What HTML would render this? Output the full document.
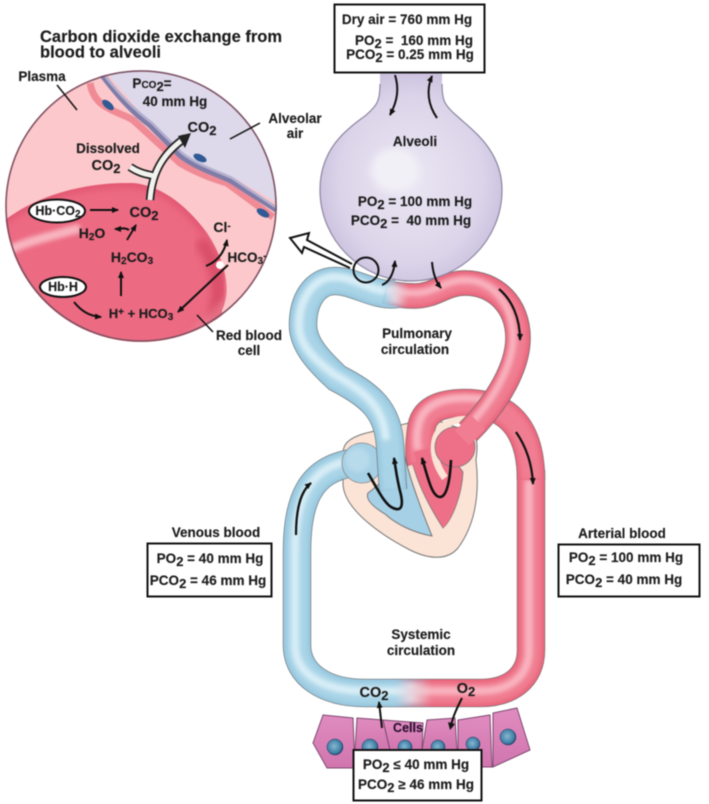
<!DOCTYPE html>
<html><head><meta charset="utf-8"><style>
html,body{margin:0;padding:0;background:#fff;width:709px;height:804px;overflow:hidden}
svg{display:block;filter:blur(.45px)}
text{font-family:"Liberation Sans",sans-serif;font-weight:bold;font-size:13.5px;fill:#1c1c1c;text-anchor:middle;stroke:#1c1c1c;stroke-width:.15px}
.s{font-size:13px}
.t{font-size:10px}
</style></head><body>
<svg width="709" height="804" viewBox="0 0 709 804" xmlns="http://www.w3.org/2000/svg">
<defs>
<filter id="b2" x="-20%" y="-20%" width="140%" height="140%"><feGaussianBlur stdDeviation="2.2"/></filter>
<filter id="b4" x="-30%" y="-30%" width="160%" height="160%"><feGaussianBlur stdDeviation="4"/></filter>
<linearGradient id="gBot" gradientUnits="userSpaceOnUse" x1="395" y1="0" x2="432" y2="0"><stop offset="0" stop-color="#a9d4e7"/><stop offset=".45" stop-color="#e8d6de"/><stop offset="1" stop-color="#f07d91"/></linearGradient>
<linearGradient id="gBotE" gradientUnits="userSpaceOnUse" x1="395" y1="0" x2="432" y2="0"><stop offset="0" stop-color="#96c6de"/><stop offset="1" stop-color="#e9647b"/></linearGradient>
<linearGradient id="gBotL" gradientUnits="userSpaceOnUse" x1="395" y1="0" x2="432" y2="0"><stop offset="0" stop-color="#d8eef7"/><stop offset="1" stop-color="#f9b4bf"/></linearGradient>
<linearGradient id="gTop" gradientUnits="userSpaceOnUse" x1="385" y1="0" x2="408" y2="0"><stop offset="0" stop-color="#a9d4e7"/><stop offset=".45" stop-color="#e8d6de"/><stop offset="1" stop-color="#f07d91"/></linearGradient>
<linearGradient id="gTopE" gradientUnits="userSpaceOnUse" x1="385" y1="0" x2="408" y2="0"><stop offset="0" stop-color="#96c6de"/><stop offset="1" stop-color="#e9647b"/></linearGradient>
<linearGradient id="gTopL" gradientUnits="userSpaceOnUse" x1="385" y1="0" x2="408" y2="0"><stop offset="0" stop-color="#d8eef7"/><stop offset="1" stop-color="#f9b4bf"/></linearGradient>
<radialGradient id="alv" cx=".5" cy=".52" r=".55"><stop offset="0" stop-color="#ebe7f3"/><stop offset=".7" stop-color="#dcd5ea"/><stop offset="1" stop-color="#c8bddc"/></radialGradient>
<radialGradient id="nuc" cx=".45" cy=".45" r=".55"><stop offset="0" stop-color="#86b8d0"/><stop offset=".8" stop-color="#3f7ea5"/><stop offset="1" stop-color="#22456b"/></radialGradient>
<clipPath id="cc"><circle cx="141" cy="206" r="136"/></clipPath>
<clipPath id="rbc"><path d="M0,224 C35,195 85,182 133,183 C165,186 190,210 207,233 C225,260 232,290 222,310 L222,350 L0,350 Z"/></clipPath>
<marker id="ah" markerWidth="8" markerHeight="8" refX="6" refY="3" orient="auto" markerUnits="userSpaceOnUse"><path d="M0,0 L7,3 L0,6 Z" fill="#111"/></marker>
<linearGradient id="cellg" x1="0" y1="0" x2="0" y2="1"><stop offset="0" stop-color="#e08cc0"/><stop offset="1" stop-color="#d175ae"/></linearGradient>
</defs>

<!-- Heart -->
<path d="M345,445 C352,434 372,432 392,427 L430,418 L470,432 C478,438 478,445 476,460 C480,495 475,525 458,548 C448,560 430,560 410,550 C385,537 342,510 343,482 C344,470 340,455 345,445 Z" fill="#fbe3d6" stroke="#777" stroke-width="1"/>

<!-- Systemic loop -->
<g fill="none">
  <path d="M352,463 C310,470 297,500 297,552 L297,645 C297,675 325,693 365,693 L480,693 C510,693 531,678 531,650 L531,470" stroke="#6a6a6a" stroke-width="28.3"/>
  <path d="M352,463 C310,470 297,500 297,552 L297,645 C297,675 325,693 365,693 L480,693 C510,693 531,678 531,650 L531,470" stroke="url(#gBotE)" stroke-width="27"/>
  <path d="M352,463 C310,470 297,500 297,552 L297,645 C297,675 325,693 365,693 L480,693 C510,693 531,678 531,650 L531,470" stroke="url(#gBot)" stroke-width="21" filter="url(#b2)"/>
  <path d="M345,462 C310,469 295,500 295,552 L295,645 C295,675 325,691 365,691 L480,691 C508,691 529,678 529,650 L529,470" stroke="url(#gBotL)" stroke-width="8" filter="url(#b2)"/>
</g>
<circle cx="362" cy="463" r="20" fill="#a6d0e5" stroke="#888" stroke-width=".8"/>
<circle cx="358" cy="460" r="12" fill="#b8dbec" filter="url(#b2)"/>

<!-- Right ventricle -->
<path d="M368,493 C375,488 378,484 381,483 L388,440 L398,423 C402,445 405,470 432,536 C415,533 397,525 385,514 C375,508 365,500 368,493 Z" fill="#a6d0e5" stroke="#777" stroke-width="1"/>

<!-- Aorta + left ventricle -->
<path d="M407,432 C410,470 425,500 443,528 C452,520 462,495 463,472 L440,440 Z" fill="#ee7088" stroke="#777" stroke-width=".8"/>
<g fill="none">
  <path d="M421,462 C418,452 420,440 421,430 C423,410 440,403 465,403 C500,403 531,420 531,480" stroke="#6a6a6a" stroke-width="28.3"/>
  <path d="M421,462 C418,452 420,440 421,430 C423,410 440,403 465,403 C500,403 531,420 531,480" stroke="#e9647b" stroke-width="27"/>
  <path d="M421,462 C418,452 420,440 421,430 C423,410 440,403 465,403 C500,403 531,420 531,480" stroke="#f07d91" stroke-width="21" filter="url(#b2)"/>
  <path d="M418,450 C416,440 417,432 418,428 C421,406 440,398 465,398 C480,398 490,400 500,404" stroke="#f9b4bf" stroke-width="8" filter="url(#b2)"/>
</g>
<path d="M414,452 C418,470 430,500 443,528 C452,520 461,495 462,472 L440,445 Z" fill="#ee7088"/>

<!-- Pale rim -->
<path d="M445,478 C428,455 430,425 458,420 C468,418 478,420 482,424" fill="none" stroke="#fbe3d6" stroke-width="7"/>

<!-- Pulmonary tubes: outlines first so the junction stays seamless -->
<g fill="none">
  <path d="M397,294 C375,297 355,281 335,281 C315,281 303,300 303,325 C303,345 320,362 337,378 C370,395 388,410 390,445 L393,490" stroke="#6a6a6a" stroke-width="28.3"/>
  <path d="M385,292 C395,295 405,296 415,296 C435,296 445,283 465,283 C495,283 518,305 518,338 C518,365 500,400 468,432" stroke="#6a6a6a" stroke-width="25.5"/>
  <path d="M397,294 C375,297 355,281 335,281 C315,281 303,300 303,325 C303,345 320,362 337,378 C370,395 388,410 390,445 L393,490" stroke="#96c6de" stroke-width="27"/>
  <path d="M397,294 C375,297 355,281 335,281 C315,281 303,300 303,325 C303,345 320,362 337,378 C370,395 388,410 390,445 L393,490" stroke="#a9d4e7" stroke-width="21" filter="url(#b2)"/>
  <path d="M395,292 C372,293 355,277 335,277 C313,277 299,300 299,325 C299,347 318,362 335,375 C366,392 384,408 386,440" stroke="#d8eef7" stroke-width="8" filter="url(#b2)"/>
  <path d="M385,292 C395,295 405,296 415,296 C435,296 445,283 465,283 C495,283 518,305 518,338 C518,365 500,400 468,432" stroke="url(#gTopE)" stroke-width="24"/>
  <path d="M385,292 C395,295 405,296 415,296 C435,296 445,283 465,283 C495,283 518,305 518,338 C518,365 500,400 468,432" stroke="url(#gTop)" stroke-width="18" filter="url(#b2)"/>
  <path d="M385,290 C395,292 405,293 415,293 C435,293 445,280 465,280 C492,280 513,303 513,338 C513,362 497,396 470,424" stroke="url(#gTopL)" stroke-width="7" filter="url(#b2)"/>
</g>
<circle cx="455" cy="447" r="20" fill="#ee7088" stroke="#777" stroke-width=".8"/>
<path d="M462,438 L478,422" stroke="#f07d91" stroke-width="20"/>

<!-- Heart arrows -->
<g fill="none" stroke="#111" stroke-width="2.6">
  <path d="M368,473 C378,490 385,505 393,508 C402,512 403,505 401,495 C397,480 396,470 394,458" marker-end="url(#ah)"/>
  <path d="M451,460 C450,480 447,497 440,497 C432,497 428,478 422,458" marker-end="url(#ah)"/>
  <path d="M296,535 C296,510 300,492 311,483" marker-end="url(#ah)" stroke-width="2.2"/>
  <path d="M516,432 C525,445 532,462 533,484" marker-end="url(#ah)" stroke-width="2.2"/>
  <path d="M499,289 C512,300 520,318 520,340" marker-end="url(#ah)" stroke-width="2.2"/>
</g>

<!-- Alveoli -->
<path d="M380,70 L380,84 C380,100 378,105 365,116 C345,130 320,150 320,190 C320,240 361,281 411,281 C461,281 502,240 502,190 C502,150 472,130 457,116 C444,105 442,100 442,84 L442,70 Z" fill="url(#alv)"/>
<path d="M380,84 C380,100 378,105 365,116 C345,130 320,150 320,190 C320,240 361,281 411,281 C461,281 502,240 502,190 C502,150 472,130 457,116 C444,105 442,100 442,84" fill="none" stroke="#8c86a0" stroke-width="1.2"/>
<ellipse cx="395" cy="170" rx="24" ry="22" fill="#f2f0f7" filter="url(#b4)"/>
<g fill="none" stroke="#111" stroke-width="2">
  <path d="M395,75 C399,88 398,100 390,115" marker-end="url(#ah)"/>
  <path d="M437,118 C428,105 426,90 432,76" marker-end="url(#ah)"/>
  <path d="M382,285 C390,282 394,272 395,261" marker-end="url(#ah)"/>
  <path d="M432,262 C433,274 436,282 441,288" marker-end="url(#ah)"/>
</g>
<circle cx="366" cy="270" r="12.5" fill="none" stroke="#111" stroke-width="2"/>
<path d="M352,264 L307,240 L309,233 L290,238 L302,253 L304,247 L350,268" fill="#fff" stroke="#111" stroke-width="2" stroke-linejoin="miter"/>

<!-- Zoom circle -->
<g clip-path="url(#cc)">
  <rect x="0" y="60" width="290" height="290" fill="#fcc8cb"/>
  <path d="M108,60 L110,77 L153,127 L180,153 C200,168 233,177 233,177 L277,203 L290,205 L290,60 Z" fill="#ddd8ea"/>
  <path d="M0,224 C35,195 85,182 133,183 C165,186 190,210 207,233 C225,260 232,290 222,310 L222,350 L0,350 Z" fill="#ec6a82"/>
  <g clip-path="url(#rbc)">
    <path d="M5,252 C30,240 45,238 80,228" stroke="#f8b5bf" stroke-width="9" fill="none" filter="url(#b2)"/>
    <path d="M147,305 L147,345" stroke="#fcd0d6" stroke-width="7" filter="url(#b2)"/>
    <path d="M0,222 C35,195 85,182 133,183 C165,186 190,210 207,233" fill="none" stroke="#e0526f" stroke-width="8" filter="url(#b4)"/>
    <path d="M200,240 C222,270 222,295 212,325" stroke="#d94d68" stroke-width="14" fill="none" filter="url(#b4)"/>
    <path d="M230,300 L180,350" stroke="#f08a9c" stroke-width="10" filter="url(#b4)" opacity=".6"/>
  </g>
  <path d="M90,83 C92,95 98,103 108,108 C118,114 125,115 133,120 L180,163 C195,172 210,178 227,183 L273,217" fill="none" stroke="#f08b96" stroke-width="7"/>
  <path d="M100,72 C115,92 130,110 150,125 L180,155 C195,167 215,173 230,180 L277,210" fill="none" stroke="#7f7da8" stroke-width="6"/>
  <path d="M102,72 C117,92 132,108 152,123 L182,153 C197,165 217,171 232,178 L277,208" fill="none" stroke="#b3b0cf" stroke-width="2.5"/>
  <ellipse cx="108" cy="105" rx="7" ry="3.5" transform="rotate(40 108 105)" fill="#2f5a94"/>
  <ellipse cx="200" cy="158" rx="7" ry="3.5" transform="rotate(25 200 158)" fill="#2f5a94"/>
  <ellipse cx="263" cy="213" rx="7" ry="3.5" transform="rotate(30 263 213)" fill="#2f5a94"/>
  <circle cx="141" cy="206" r="135" fill="none" stroke="#7a5060" stroke-width="1.5"/>
</g>

<!-- CO2 white arrow -->
<path d="M130,167 C142,175 150,174 156,177 M150,200 C152,170 165,152 185,138" fill="none" stroke="#222" stroke-width="8.5"/>
<path d="M130,167 C142,175 150,174 156,177 M150,200 C152,170 165,152 185,138" fill="none" stroke="#f2f2ee" stroke-width="5"/>
<path d="M178,136 L191,133 L185,148 Z" fill="#222"/>

<!-- Internal arrows -->
<g fill="none" stroke="#111" stroke-width="2">
  <path d="M90,210 L118,210" marker-end="url(#ah)"/>
  <path d="M127,240 L136,225" stroke-width="1.8" marker-end="url(#ah)"/>
  <path d="M129,230 C124,227 121,229 115,229" marker-end="url(#ah)"/>
  <path d="M121,296 L121,272" marker-end="url(#ah)"/>
  <path d="M74,302 C82,312 90,316 101,317" marker-end="url(#ah)"/>
  <path d="M228,265 L178,312" marker-end="url(#ah)"/>
  <path d="M206,266 C216,262 224,254 227,240" marker-end="url(#ah)"/>
  <path d="M57,85 L77,110" stroke-width="1.5"/>
  <path d="M230,139 L260,123" stroke-width="1.5"/>
  <path d="M197,315 L213,332" stroke-width="1.5"/>
</g>
<circle cx="220" cy="265" r="4" fill="#fff"/>

<!-- Ovals -->
<ellipse cx="57" cy="211" rx="28" ry="11.5" fill="#fff" stroke="#111" stroke-width="2"/>
<ellipse cx="63" cy="287" rx="23" ry="10" fill="#fff" stroke="#111" stroke-width="2"/>

<!-- Title & circle labels -->
<text x="40" y="42" style="text-anchor:start;font-size:16.5px">Carbon dioxide exchange from</text>
<text x="40" y="57.5" style="text-anchor:start;font-size:16.5px">blood to alveoli</text>
<text x="42" y="81">Plasma</text>
<text x="152" y="88">P<tspan class="t">CO</tspan><tspan class="s" dy="3">2</tspan><tspan dy="-3">=</tspan></text>
<text x="175" y="106">40 mm Hg</text>
<text x="202" y="132" style="font-size:14.5px">CO<tspan class="s" dy="3">2</tspan></text>
<text x="108" y="153">Dissolved</text>
<text x="106" y="170" style="font-size:14.5px">CO<tspan class="s" dy="3">2</tspan></text>
<text x="58" y="215" style="font-size:12.5px">Hb·CO<tspan class="t" dy="2">2</tspan></text>
<text x="144" y="217" style="font-size:14.5px">CO<tspan class="s" dy="3">2</tspan></text>
<text x="92" y="238" style="font-size:14px">H<tspan class="t" dy="2">2</tspan><tspan dy="-2">O</tspan></text>
<text x="132" y="262" style="font-size:14px">H<tspan class="t" dy="2">2</tspan><tspan dy="-2">CO</tspan><tspan class="t" dy="2">3</tspan></text>
<text x="63" y="291" style="font-size:12.5px">Hb·H</text>
<text x="141" y="318" style="font-size:13px">H<tspan class="t" dy="-3">+</tspan><tspan dy="3"> + HCO</tspan><tspan class="t" dy="2">3</tspan></text>
<text x="222" y="232" style="font-size:14px">Cl<tspan class="t" dy="-3">-</tspan></text>
<text x="247" y="262" style="font-size:13.5px">HCO<tspan class="t" dy="2">3</tspan><tspan class="t" dy="-5">-</tspan></text>
<text x="295" y="123">Alveolar</text>
<text x="295" y="138">air</text>
<text x="249" y="340">Red blood</text>
<text x="249" y="355">cell</text>

<!-- Alveoli text -->
<text x="415" y="146">Alveoli</text>
<text x="415" y="206" xml:space="preserve">PO<tspan class="s" dy="3">2</tspan><tspan dy="-3"> = 100 mm Hg</tspan></text>
<text x="411" y="225" xml:space="preserve">PCO<tspan class="s" dy="3">2</tspan><tspan dy="-3"> =  40 mm Hg</tspan></text>
<text x="417" y="338">Pulmonary</text>
<text x="415" y="354">circulation</text>
<text x="421" y="639">Systemic</text>
<text x="421" y="655">circulation</text>

<!-- Boxes -->
<rect x="334.5" y="4.5" width="150" height="68" fill="#fff" stroke="#111" stroke-width="2"/>
<text x="407" y="24">Dry air = 760 mm Hg</text>
<text x="414" y="45" xml:space="preserve">PO<tspan class="s" dy="3">2</tspan><tspan dy="-3"> =  160 mm Hg</tspan></text>
<text x="410" y="59" xml:space="preserve">PCO<tspan class="s" dy="3">2</tspan><tspan dy="-3"> = 0.25 mm Hg</tspan></text>

<rect x="147.5" y="543.5" width="124" height="53" fill="#fff" stroke="#111" stroke-width="2"/>
<text x="216" y="537">Venous blood</text>
<text x="210" y="563" xml:space="preserve">PO<tspan class="s" dy="3">2</tspan><tspan dy="-3"> = 40 mm Hg</tspan></text>
<text x="208" y="585" xml:space="preserve">PCO<tspan class="s" dy="3">2</tspan><tspan dy="-3"> = 46 mm Hg</tspan></text>

<rect x="558.5" y="544.5" width="141" height="52" fill="#fff" stroke="#111" stroke-width="2"/>
<text x="622" y="538">Arterial blood</text>
<text x="626" y="562" xml:space="preserve">PO<tspan class="s" dy="3">2</tspan><tspan dy="-3"> = 100 mm Hg</tspan></text>
<text x="624" y="584" xml:space="preserve">PCO<tspan class="s" dy="3">2</tspan><tspan dy="-3"> = 40 mm Hg</tspan></text>

<!-- Cells -->
<g fill="url(#cellg)" stroke="#7d4870" stroke-width="1">
  <path d="M323,715 L353,718 L355,768 L327,768 L313,743 Z"/>
  <path d="M357,718 L383,720 L390,750 L355,750 Z"/>
  <path d="M383,720 L423,723 L422,750 L390,750 Z"/>
  <path d="M427,720 L455,718 L457,750 L422,750 Z"/>
  <path d="M458,720 L490,715 L492,767 L482,767 L480,750 L458,750 Z"/>
  <path d="M493,713 L517,708 L530,750 L493,767 Z"/>
</g>
<g fill="url(#nuc)" stroke="#1f3b5c" stroke-width=".5">
  <circle cx="335" cy="747" r="8"/><circle cx="370" cy="747" r="8"/><circle cx="405" cy="747" r="7"/><circle cx="438" cy="747" r="7"/><circle cx="473" cy="744" r="7"/><circle cx="508" cy="737" r="8"/>
</g>
<rect x="353.5" y="750" width="128" height="50.5" fill="#fff" stroke="#111" stroke-width="2"/>
<text x="416" y="769" xml:space="preserve">PO<tspan class="s" dy="3">2</tspan><tspan dy="-3"> ≤ 40 mm Hg</tspan></text>
<text x="416" y="789" xml:space="preserve">PCO<tspan class="s" dy="3">2</tspan><tspan dy="-3"> ≥ 46 mm Hg</tspan></text>
<text x="408" y="732" style="font-size:12.5px;fill:#2a1030;stroke:#2a1030">Cells</text>

<text x="374" y="697" style="font-size:14.5px">CO<tspan class="s" dy="3">2</tspan></text>
<text x="466" y="693" style="font-size:14.5px">O<tspan class="s" dy="3">2</tspan></text>
<g fill="none" stroke="#111" stroke-width="2">
  <path d="M382,728 L379,702" marker-end="url(#ah)"/>
  <path d="M451,726 C453,716 457,708 462,698"/>
</g>
<path d="M448,722 L455,724 L450,730 Z" fill="#111"/>
</svg>
</body></html>
